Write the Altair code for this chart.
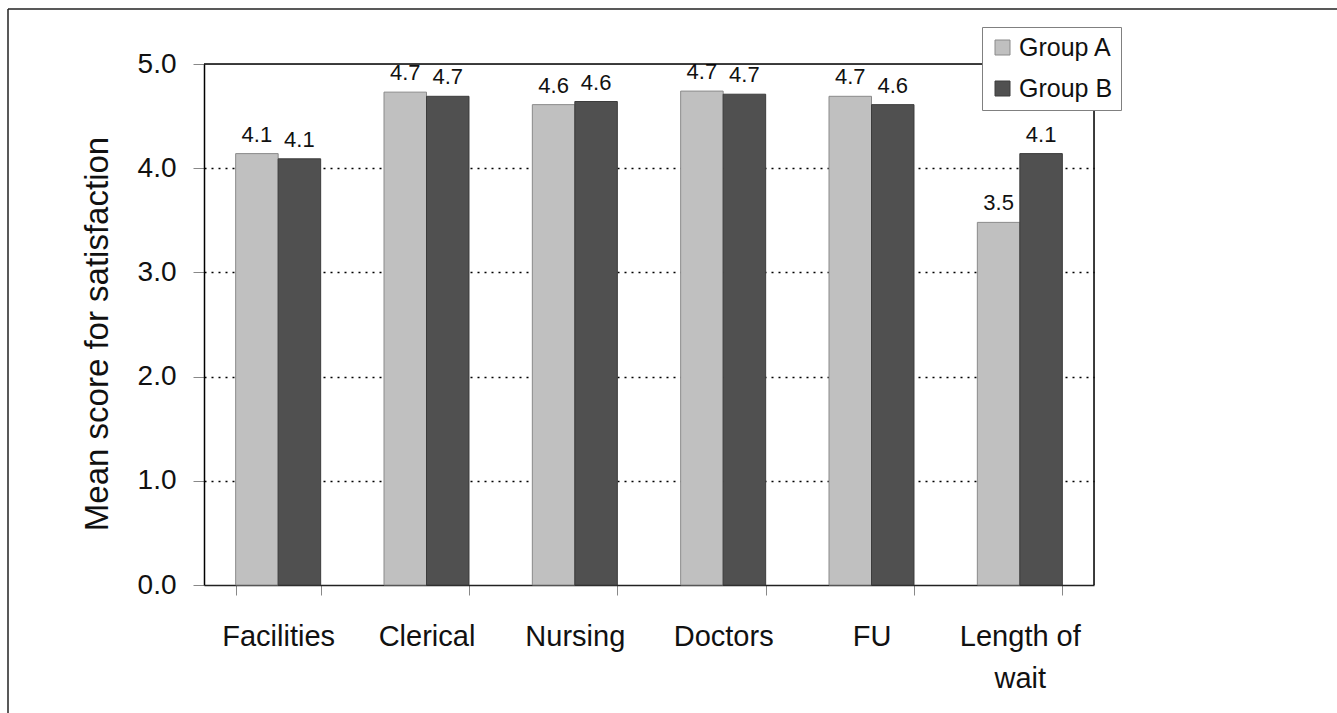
import altair as alt
import pandas as pd

categories = ["Facilities", "Clerical", "Nursing", "Doctors", "FU", "Length of wait"]
group_a = [4.14, 4.73, 4.61, 4.74, 4.69, 3.48]
group_b = [4.09, 4.69, 4.64, 4.71, 4.61, 4.14]
groups = ["Group A", "Group B"]
colors = ["#c0c0c0", "#505050"]
strokes = ["#8a8a8a", "#3c3c3c"]

rows = []
for c, a, b in zip(categories, group_a, group_b):
    rows.append({"cat": c, "group": groups[0], "value": a})
    rows.append({"cat": c, "group": groups[1], "value": b})
df = pd.DataFrame(rows)

FONT = "Liberation Sans"

x_enc = alt.X(
    "cat:N", sort=categories, title=None,
    scale=alt.Scale(paddingInner=0.427, paddingOuter=0.2135),
    axis=alt.Axis(
        labelAngle=0, labelFontSize=29, labelFont=FONT, labelColor="#111111",
        tickBand="extent", tickSize=10, tickColor="#888888", tickWidth=1,
        domainColor="#222222", domainWidth=1.5, labelPadding=27,
        labelLineHeight=42, labelBaseline="top",
        labelExpr="datum.label == 'Length of wait' ? ['Length of', 'wait'] : datum.label",
    ),
)
y_enc = alt.Y(
    "value:Q", title="Mean score for satisfaction",
    scale=alt.Scale(domain=[0, 5], nice=False),
    axis=alt.Axis(
        values=[0, 1, 2, 3, 4, 5], format=".1f", labelFontSize=28, labelFont=FONT,
        labelColor="#111111", tickSize=11, tickColor="#888888", labelPadding=17,
        titleFontSize=33, titleFont=FONT, titleFontWeight="normal", titleColor="#111111",
        titleAngle=-90, titleX=-97, titleY=269.5, titleAlign="center",
        titleBaseline="alphabetic",
        domain=True, domainColor="#000000", domainWidth=1.5,
        grid=True, gridColor="#000000", gridDash=[2, 5], gridWidth=1.5,
        gridOpacity={"condition": {"test": "datum.value == 0 || datum.value == 5", "value": 0}, "value": 1},
    ),
)
xoff = alt.XOffset("group:N", sort=groups, scale=alt.Scale(paddingInner=0, paddingOuter=0))

bars = alt.Chart(df).mark_bar(strokeWidth=1).encode(
    x=x_enc, y=y_enc, xOffset=xoff,
    color=alt.Color(
        "group:N", sort=groups, scale=alt.Scale(domain=groups, range=colors), title=None,
        legend=alt.Legend(
            orient="none", legendX=778, legendY=-37, labelFontSize=25, labelFont=FONT,
            labelColor="#111111", symbolType="square", symbolSize=225,
            symbolStrokeColor="#808080", symbolStrokeWidth=1, fillColor="white",
            strokeColor="#808080", padding=8, rowPadding=15, labelOffset=4,
        ),
    ),
    stroke=alt.Stroke("group:N", sort=groups, scale=alt.Scale(domain=groups, range=strokes), legend=None),
)

labels = alt.Chart(df).mark_text(
    dy=-12, baseline="alphabetic", fontSize=22, font=FONT, color="#111111"
).encode(
    x=alt.X("cat:N", sort=categories), y="value:Q", xOffset=xoff,
    text=alt.Text("value:Q", format=".1f"),
)

frame_df = pd.DataFrame({"k": [0]})
left_line = alt.Chart(frame_df).mark_rule(color="#222222", strokeWidth=1.5).encode(
    x=alt.value(-196), y=alt.value(-55), y2=alt.value(713 - 64)
)
top_line = alt.Chart(frame_df).mark_rule(color="#222222", strokeWidth=1.5).encode(
    y=alt.value(-55), x=alt.value(-196), x2=alt.value(1337 - 204)
)
top_border = alt.Chart(frame_df).mark_rule(color="#000000", strokeWidth=1.5).encode(
    y=alt.value(0), x=alt.value(0), x2=alt.value(890)
)
right_border = alt.Chart(frame_df).mark_rule(color="#000000", strokeWidth=1.5).encode(
    x=alt.value(890), y=alt.value(0), y2=alt.value(521)
)

chart = alt.layer(bars, labels, top_border, right_border, left_line, top_line).properties(
    width=890, height=521,
    autosize=alt.AutoSizeParams(type="none"),
    padding={"left": 204, "top": 64, "right": 243, "bottom": 128},
).configure_view(stroke=None).configure(background="white")

chart.save("out.html", embed_options={"renderer": "svg", "actions": False})
